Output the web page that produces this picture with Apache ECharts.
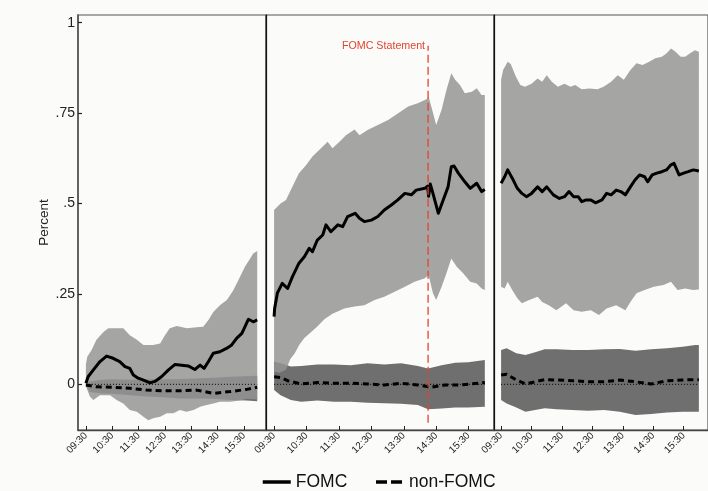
<!DOCTYPE html>
<html>
<head>
<meta charset="utf-8">
<script src="https://cdn.jsdelivr.net/npm/echarts@6/dist/echarts.min.js"></script>
<style>
  html, body { margin: 0; padding: 0; background: #fbfbf9; }
  #chart { width: 708px; height: 491px; }
</style>
</head>
<body>
<div id="chart"></div>
<script>
// Time axis: minutes after the 09:30 open
const tickMinutes = [0, 60, 120, 180, 240, 300, 360];
const tickLabels = ['09:30', '10:30', '11:30', '12:30', '13:30', '14:30', '15:30'];
const yTicks = [0, 0.25, 0.5, 0.75, 1];
const yTickLabels = ['0', '.25', '.5', '.75', '1'];
const statementMinute = 285;              // 14:15
const statementSpan = [-0.106, 0.936];

// ---- Day before the meeting ----
const fomc1 = [[0,0.003],[5,0.021],[17,0.04],[32,0.063],[47,0.078],[62,0.072],[77,0.063],[89,0.049],[100,0.044],[108,0.026],[119,0.017],[134,0.01],[146,0.004],[157,0.008],[172,0.021],[188,0.04],[203,0.055],[218,0.053],[233,0.051],[248,0.041],[260,0.053],[269,0.044],[279,0.063],[290,0.086],[305,0.09],[321,0.1],[332,0.109],[343,0.127],[355,0.141],[362,0.159],[370,0.18],[381,0.173],[390,0.178]];
const fomcUp1 = [[0,0.055],[3,0.076],[13,0.095],[24,0.123],[40,0.145],[51,0.155],[70,0.155],[85,0.155],[100,0.136],[116,0.123],[131,0.109],[153,0.109],[169,0.113],[180,0.136],[191,0.155],[207,0.161],[230,0.155],[252,0.158],[267,0.159],[279,0.178],[290,0.2],[305,0.219],[321,0.233],[336,0.261],[347,0.288],[362,0.325],[374,0.348],[381,0.362],[390,0.369]];
const fomcLo1 = [[0,-0.005],[9,-0.034],[17,-0.043],[32,-0.03],[55,-0.03],[70,-0.043],[85,-0.053],[100,-0.071],[116,-0.076],[131,-0.09],[142,-0.099],[153,-0.094],[169,-0.09],[184,-0.08],[199,-0.08],[214,-0.071],[229,-0.076],[245,-0.071],[260,-0.062],[275,-0.057],[290,-0.053],[305,-0.048],[328,-0.048],[351,-0.045],[366,-0.04],[390,-0.042]];
const non1 = [[0,-0.002],[24,-0.007],[62,-0.008],[100,-0.011],[138,-0.016],[176,-0.018],[214,-0.018],[252,-0.016],[290,-0.025],[328,-0.02],[366,-0.014],[390,-0.008]];
const nonUp1 = [[0,0.003],[9,0.008],[30,0.012],[60,0.014],[100,0.013],[150,0.014],[200,0.014],[250,0.016],[290,0.018],[330,0.021],[360,0.022],[390,0.024]];
const nonLo1 = [[0,-0.004],[9,-0.021],[30,-0.025],[62,-0.026],[100,-0.03],[138,-0.034],[176,-0.036],[214,-0.039],[252,-0.039],[290,-0.04],[328,-0.043],[366,-0.045],[390,-0.047]];

// ---- Meeting day ----
const fomc2 = [[0,0.187],[1,0.21],[6,0.252],[15,0.279],[25,0.265],[34,0.298],[46,0.335],[56,0.353],[65,0.376],[71,0.367],[80,0.399],[90,0.413],[96,0.441],[105,0.422],[118,0.441],[127,0.436],[136,0.464],[150,0.473],[158,0.459],[167,0.45],[180,0.454],[192,0.464],[204,0.482],[217,0.496],[229,0.51],[242,0.528],[254,0.524],[263,0.537],[279,0.542],[284,0.548],[286,0.52],[289,0.554],[294,0.528],[304,0.473],[313,0.51],[322,0.546],[328,0.602],[333,0.604],[341,0.584],[353,0.56],[363,0.542],[375,0.556],[384,0.533],[390,0.539]];
const fomcUp2 = [[0,0.482],[12,0.5],[22,0.51],[34,0.547],[46,0.584],[59,0.606],[71,0.63],[80,0.643],[93,0.662],[99,0.671],[108,0.653],[121,0.671],[133,0.689],[149,0.705],[158,0.689],[173,0.703],[192,0.717],[211,0.731],[229,0.749],[248,0.768],[266,0.777],[282,0.788],[286,0.795],[291,0.768],[300,0.717],[310,0.759],[319,0.814],[328,0.86],[335,0.842],[344,0.828],[353,0.805],[366,0.809],[375,0.819],[384,0.8],[390,0.8]];
const fomcLo2 = [[0,0.035],[10,0.032],[22,0.04],[30,0.07],[38,0.085],[47,0.11],[56,0.128],[66,0.141],[80,0.16],[93,0.18],[108,0.195],[130,0.21],[149,0.215],[167,0.219],[186,0.233],[204,0.242],[223,0.256],[242,0.27],[260,0.284],[279,0.293],[286,0.302],[294,0.252],[300,0.233],[310,0.27],[319,0.307],[328,0.348],[338,0.325],[350,0.307],[363,0.284],[375,0.279],[384,0.265],[390,0.261]];
const non2 = [[0,0.021],[12,0.019],[25,0.01],[50,0.001],[80,0.005],[111,0.003],[142,0.003],[173,0.001],[204,-0.002],[235,0.003],[266,-0.002],[291,-0.008],[316,-0.002],[341,-0.002],[365,0.001],[390,0.005]];
const nonUp2 = [[0,0.063],[12,0.058],[31,0.049],[50,0.051],[80,0.055],[111,0.055],[142,0.053],[173,0.058],[204,0.055],[235,0.058],[266,0.051],[285,0.044],[310,0.053],[335,0.06],[359,0.061],[390,0.067]];
const nonLo2 = [[0,-0.016],[12,-0.03],[31,-0.043],[50,-0.048],[80,-0.045],[111,-0.048],[142,-0.048],[173,-0.051],[204,-0.052],[235,-0.054],[266,-0.057],[285,-0.069],[310,-0.067],[335,-0.064],[359,-0.064],[390,-0.062]];

// ---- Day after the meeting ----
const fomc3 = [[0,0.556],[7,0.574],[13,0.593],[22,0.57],[32,0.542],[41,0.528],[50,0.519],[60,0.528],[72,0.546],[81,0.533],[90,0.546],[103,0.524],[115,0.514],[125,0.519],[134,0.533],[143,0.519],[152,0.519],[159,0.505],[168,0.51],[177,0.51],[186,0.502],[199,0.51],[208,0.528],[217,0.524],[227,0.537],[236,0.533],[245,0.524],[255,0.546],[264,0.565],[273,0.579],[283,0.574],[289,0.56],[298,0.579],[307,0.584],[317,0.588],[326,0.593],[335,0.607],[341,0.611],[351,0.579],[360,0.584],[369,0.588],[379,0.593],[390,0.59]];
const fomcUp3 = [[0,0.842],[4,0.869],[13,0.892],[19,0.886],[29,0.851],[38,0.828],[47,0.823],[60,0.831],[72,0.846],[81,0.837],[90,0.855],[100,0.837],[112,0.823],[125,0.831],[137,0.823],[146,0.828],[159,0.816],[174,0.818],[190,0.816],[202,0.823],[217,0.837],[230,0.855],[242,0.842],[255,0.869],[267,0.888],[279,0.883],[292,0.892],[304,0.902],[317,0.906],[326,0.915],[335,0.929],[344,0.92],[354,0.906],[363,0.906],[372,0.915],[382,0.924],[390,0.92]];
const fomcLo3 = [[0,0.27],[7,0.265],[13,0.284],[22,0.261],[32,0.238],[41,0.224],[53,0.232],[72,0.242],[81,0.228],[94,0.219],[109,0.205],[128,0.224],[143,0.205],[159,0.201],[177,0.205],[193,0.192],[208,0.21],[227,0.219],[245,0.205],[255,0.228],[267,0.252],[283,0.261],[301,0.27],[320,0.275],[335,0.284],[348,0.261],[363,0.265],[379,0.261],[390,0.262]];
const non3 = [[0,0.026],[11,0.028],[30,0.012],[48,0.001],[67,0.007],[86,0.013],[110,0.012],[141,0.01],[172,0.007],[203,0.007],[234,0.012],[265,0.007],[296,0.001],[327,0.01],[358,0.012],[383,0.013],[390,0.013]];
const nonUp3 = [[0,0.095],[11,0.1],[30,0.086],[48,0.081],[67,0.089],[86,0.097],[110,0.097],[141,0.095],[172,0.095],[203,0.097],[234,0.098],[265,0.093],[296,0.097],[327,0.1],[358,0.104],[383,0.109],[390,0.109]];
const nonLo3 = [[0,-0.043],[11,-0.053],[30,-0.064],[48,-0.076],[67,-0.071],[86,-0.066],[110,-0.069],[141,-0.071],[172,-0.073],[203,-0.071],[234,-0.076],[265,-0.085],[296,-0.082],[327,-0.078],[358,-0.076],[383,-0.076],[390,-0.076]];

const zeroSpan = [[0, 0], [390, 0]];

const panels = [
  { fomc: fomc1, fomcUp: fomcUp1, fomcLo: fomcLo1, non: non1, nonUp: nonUp1, nonLo: nonLo1 },
  { fomc: fomc2, fomcUp: fomcUp2, fomcLo: fomcLo2, non: non2, nonUp: nonUp2, nonLo: nonLo2 },
  { fomc: fomc3, fomcUp: fomcUp3, fomcLo: fomcLo3, non: non3, nonUp: nonUp3, nonLo: nonLo3 }
];

// layout of the three day panels
const panelLeft = [78, 266, 494];
const panelWidth = [188, 228, 228];
const xRange = [[-18, 410], [-15, 407], [-14, 408]];
const yRange = [-0.1263, 1.0213];

const FONT = '"Liberation Sans", Arial, sans-serif';
const labelOf = (vals, labels) => v => {
  const i = vals.findIndex(u => Math.abs(u - v) < 1e-9);
  return i < 0 ? '' : labels[i];
};

// confidence band: polygon along the upper edge and back along the lower edge
function band(i, up, lo, fill) {
  return {
    type: 'custom', xAxisIndex: i, yAxisIndex: i, silent: true,
    data: [up[0]],
    renderItem: (params, api) => {
      const pts = up.map(p => api.coord(p)).concat(lo.slice().reverse().map(p => api.coord(p)));
      return { type: 'polygon', shape: { points: pts }, style: { fill: fill } };
    }
  };
}

const grid = [], xAxis = [], yAxis = [], series = [];
panels.forEach((p, i) => {
  grid.push({ left: panelLeft[i], width: panelWidth[i], top: 15, height: 415,
              show: true, borderColor: '#555', borderWidth: 1.2, backgroundColor: 'transparent' });
  xAxis.push({
    type: 'value', gridIndex: i, min: xRange[i][0], max: xRange[i][1],
    axisLine: { show: true, onZero: false, lineStyle: { color: '#444', width: 1.3 } },
    axisTick: { show: true, inside: true, length: 4, customValues: tickMinutes, lineStyle: { color: '#222', width: 1 } },
    axisLabel: { customValues: tickMinutes, formatter: labelOf(tickMinutes, tickLabels), rotate: 45,
                 fontSize: 10, margin: 4, color: '#222', fontFamily: FONT },
    splitLine: { show: false }
  });
  yAxis.push({
    type: 'value', gridIndex: i, min: yRange[0], max: yRange[1],
    axisLine: { show: true, onZero: false, lineStyle: { color: i === 0 ? '#555' : '#111', width: i === 0 ? 1.6 : 1.2 } },
    axisTick: { show: i === 0, inside: true, length: 4, customValues: yTicks, lineStyle: { color: '#222', width: 1.2 } },
    axisLabel: { show: i === 0, customValues: yTicks, formatter: labelOf(yTicks, yTickLabels),
                 fontSize: 14, margin: 3, color: '#222', fontFamily: FONT },
    splitLine: { show: false },
    name: i === 0 ? 'Percent' : '', nameLocation: 'middle', nameGap: 25,
    nameTextStyle: { fontSize: 13.5, color: '#222', fontFamily: FONT }
  });

  series.push(band(i, p.nonUp, p.nonLo, '#6f6f6f'));
  series.push(band(i, p.fomcUp, p.fomcLo, 'rgba(148,148,148,0.84)'));
  series.push({
    type: 'line', xAxisIndex: i, yAxisIndex: i, data: zeroSpan, symbol: 'none', silent: true,
    lineStyle: { color: '#000', width: 1, type: [1, 2] }
  });
  series.push({
    type: 'line', name: 'non-FOMC', xAxisIndex: i, yAxisIndex: i, data: p.non, symbol: 'none',
    lineStyle: { color: '#000', width: 3, type: [6, 4] }, itemStyle: { color: '#000' }
  });
  series.push({
    type: 'line', name: 'FOMC', xAxisIndex: i, yAxisIndex: i, data: p.fomc, symbol: 'none',
    lineStyle: { color: '#000', width: 3, join: 'round' }, itemStyle: { color: '#000' }
  });
});

// policy statement release marker on the meeting day
series.push({
  type: 'line', xAxisIndex: 1, yAxisIndex: 1, silent: true,
  symbol: 'circle', symbolSize: 0, showSymbol: true,
  data: [
    [statementMinute, statementSpan[0]],
    { value: [statementMinute, statementSpan[1]],
      label: { show: true, position: 'left', distance: 3, formatter: 'FOMC Statement',
               color: '#e0452f', fontSize: 10.7, fontFamily: FONT } }
  ],
  lineStyle: { color: '#e8412c', width: 1.3, type: [8, 4] },
  itemStyle: { color: '#e8412c' }
});

const chart = echarts.init(document.getElementById('chart'), null, { renderer: 'canvas' });
chart.setOption({
  backgroundColor: '#fbfbf9',
  animation: false,
  textStyle: { fontFamily: FONT },
  grid, xAxis, yAxis, series,
  legend: {
    data: [{ name: 'FOMC' }, { name: 'non-FOMC', lineStyle: { type: [11, 4] } }],
    left: 261, top: 473, padding: 0, itemWidth: 28, itemHeight: 14, itemGap: 27,
    selectedMode: false,
    itemStyle: { color: 'rgba(0,0,0,0)', borderColor: 'rgba(0,0,0,0)', borderWidth: 0, opacity: 0 },
    lineStyle: { width: 3.5 },
    textStyle: { fontSize: 17.5, color: '#111', fontFamily: FONT }
  }
});
</script>
</body>
</html>
